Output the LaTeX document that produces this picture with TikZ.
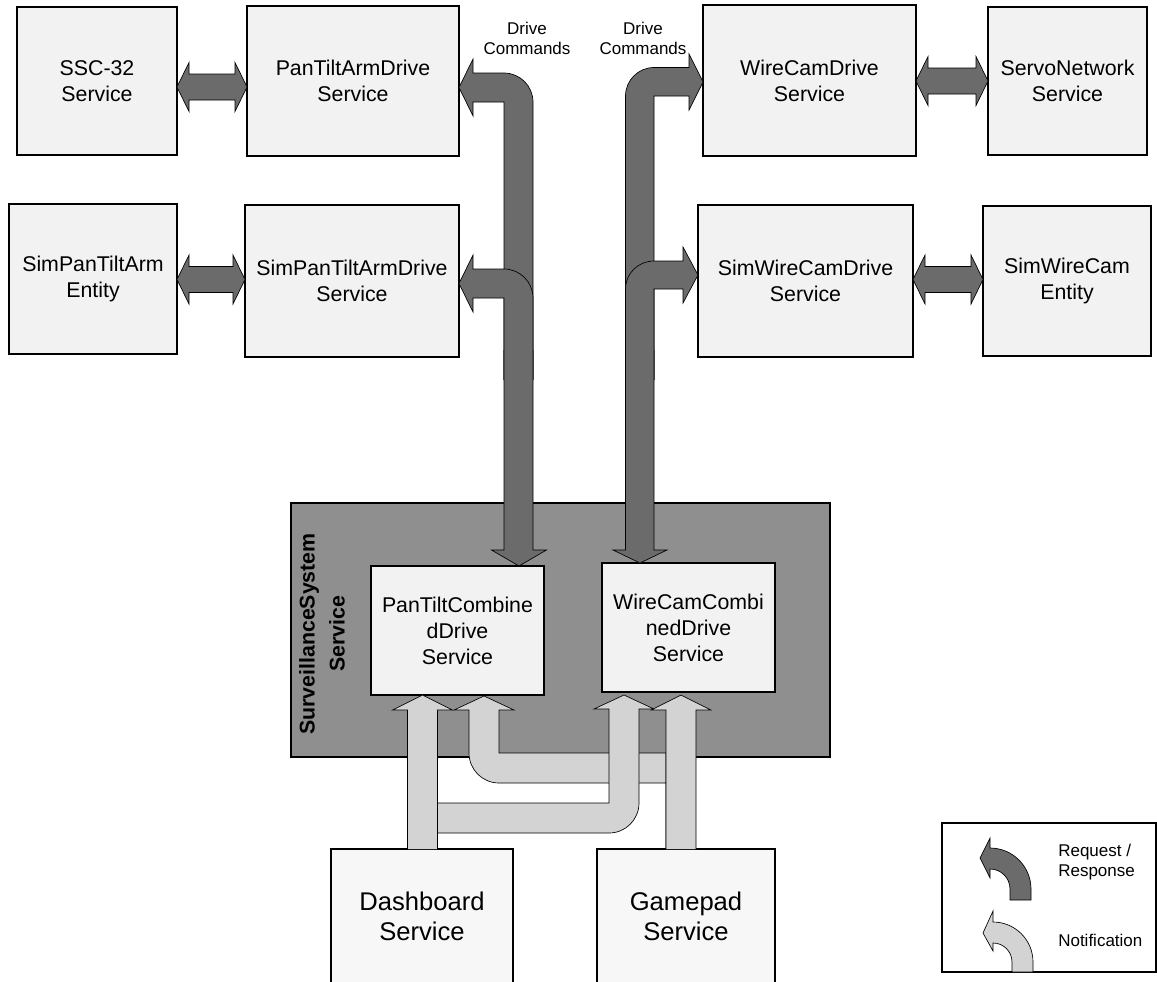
\documentclass[tikz,border=0pt]{standalone}
\usepackage{fontspec}
\setmainfont{Liberation Sans}
\usetikzlibrary{calc}

\definecolor{boxfill}{HTML}{F2F2F2}
\definecolor{lowfill}{HTML}{F7F7F7}
\definecolor{survfill}{HTML}{8F8F8F}
\definecolor{reqfill}{HTML}{6B6B6B}
\definecolor{notiffill}{HTML}{D3D3D3}

% two-headed request/response arrow between two side-by-side boxes at height #3
\newcommand\twoway[3]{%
  \filldraw[reqarrow] (#1.east |- 0,#3) -- ++(12,-24.5) -- ++(0,11.5)
    -- ($(#2.west |- 0,#3)+(-12,-13)$) -- ++(0,-11.5) -- (#2.west |- 0,#3)
    -- ++(-12,24.5) -- ++(0,-11.5) -- ($(#1.east |- 0,#3)+(12,13)$)
    -- ++(0,11.5) -- cycle;}

\begin{document}
\begin{tikzpicture}[x=0.75pt,y=-0.75pt,
  wh/.style 2 args={minimum width=#1*0.75pt, minimum height=#2*0.75pt},
  svcbox/.style={draw=black, line width=0.9pt, fill=boxfill, inner sep=0pt,
    outer sep=0pt, align=center, font=\fontsize{16}{19.5}\selectfont},
  bigbox/.style={svcbox, fill=lowfill, font=\fontsize{19.2}{23}\selectfont},
  reqarrow/.style={draw=black, line width=0.5pt, fill=reqfill, line join=miter},
  notifarrow/.style={draw=black, line width=0.5pt, fill=notiffill, line join=miter},
  smalltext/.style={inner sep=0pt, align=center, font=\fontsize{12.75}{15}\selectfont}]

\useasboundingbox (0,0) rectangle (1157,982);
\clip (0,0) rectangle (1157,982);
\fill[white] (0,0) rectangle (1157,982);

% ---- service boxes, top rows ----
\node[svcbox, wh={160}{148}] (ssc)     at (97,81)      {SSC-32\\Service};
\node[svcbox, wh={212}{150}] (pan)     at (353,81)     {PanTiltArmDrive\\Service};
\node[svcbox, wh={168}{150}] (simarm)  at (93,279)     {SimPanTiltArm\\Entity};
\node[svcbox, wh={214}{152}] (simpan)  at (352,281)    {SimPanTiltArmDrive\\Service};
\node[svcbox, wh={213}{151}] (wire)    at (809.5,80.5) {WireCamDrive\\Service};
\node[svcbox, wh={159}{148}] (servo)   at (1067.5,81)  {ServoNetwork\\Service};
\node[svcbox, wh={215}{152}] (simwire) at (805.5,281)  {SimWireCamDrive\\Service};
\node[svcbox, wh={168}{150}] (simcam)  at (1067,281)   {SimWireCam\\Entity};

\twoway{ssc}{pan}{87}
\twoway{simarm}{simpan}{279.5}
\twoway{wire}{servo}{81}
\twoway{simwire}{simcam}{279.5}

% ---- surveillance system container ----
\node[draw=black, line width=0.9pt, fill=survfill, inner sep=0pt, outer sep=0pt,
  wh={539}{254}] (surv) at (560.5,630) {};
\node[inner sep=0pt, rotate=90, align=center,
  font=\fontsize{16}{22.5}\selectfont\bfseries] (survlabel) at (322,634)
  {SurveillanceSystem\\Service};
\node[svcbox, wh={173}{129}] (ptc) at (457.5,630.5) {PanTiltCombine\\dDrive\\Service};
\node[svcbox, wh={173}{129}] (wcc) at (688.5,627.5) {WireCamCombi\\nedDrive\\Service};

% ---- drive commands (request / response) ----
\filldraw[reqarrow] (533,350) -- (533,550) -- (546.5,550) -- (ptc.north -| 519,0)
  -- (491.5,550) -- (504,550) -- (504,350);
\filldraw[reqarrow] (504,380) -- (504,102) -- (473,102) -- (473,116)
  -- (pan.east |- 0,87.5) -- (473,59) -- (473,73) -- (504,73)
  .. controls (520,73) and (533,86) .. (533,102) -- (533,380);
\filldraw[reqarrow] (504,380) -- (504,298) -- (473,298) -- (473,312)
  -- (simpan.east |- 0,283.5) -- (473,255) -- (473,269) -- (504,269)
  .. controls (520,269) and (533,282) .. (533,298) -- (533,380);

\filldraw[reqarrow] (654,350) -- (654,550) -- (667,550) -- (wcc.north -| 640,0)
  -- (613,550) -- (625.5,550) -- (625.5,350);
\filldraw[reqarrow] (625.5,380) -- (625.5,96) .. controls (625.5,80.3) and (638.3,67.5) .. (654,67.5)
  -- (689,67.5) -- (689,54) -- (wire.west |- 0,82) -- (689,110) -- (689,96)
  -- (654,96) -- (654,380);
\filldraw[reqarrow] (625.5,380) -- (625.5,289) .. controls (625.5,273.3) and (638.3,261) .. (654,261)
  -- (683,261) -- (683,247) -- (simwire.west |- 0,275) -- (683,303) -- (683,289)
  -- (654,289) -- (654,380);

\node[smalltext] (dcleft)  at (527,38) {Drive\\Commands};
\node[smalltext] (dcright) at (643,38) {Drive\\Commands};

% ---- client services ----
\node[bigbox, wh={182}{135}] (dash) at (422,916.5) {Dashboard\\Service};
\node[bigbox, wh={178}{135}] (game) at (686,916.5) {Gamepad\\Service};

% ---- notifications ----
\filldraw[notifarrow] (game.north -| 666,0) -- (666,753) -- (499,753) -- (499,710) -- (514,710)
  -- (484,696) -- (454,710) -- (469,710) -- (469,753)
  .. controls (469,769.6) and (482.4,783) .. (499,783) -- (666,783);
\filldraw[notifarrow] (438,833) -- (609,833) .. controls (625.6,833) and (639,819.6) .. (639,803)
  -- (639,709) -- (654,709) -- (624,695) -- (594,709) -- (609,709) -- (609,803) -- (438,803);
\filldraw[notifarrow] (dash.north -| 407.5,0) -- (407.5,710) -- (392.5,710)
  -- (ptc.south -| 422.5,0) -- (452.5,710) -- (437.5,710) -- (dash.north -| 437.5,0);
\filldraw[notifarrow] (game.north -| 666,0) -- (666,710) -- (651,710) -- (681,695)
  -- (711,710) -- (696,710) -- (game.north -| 696,0);

% ---- legend ----
\node[draw=black, line width=0.9pt, fill=white, inner sep=0pt, outer sep=0pt,
  wh={214}{149}] (legend) at (1049,897.5) {};
\filldraw[reqarrow] (1010,900) -- (1010,889) .. controls (1010,878) and (1001,869) .. (990,869)
  -- (990,878) -- (980,858) -- (990,838) -- (990,848)
  .. controls (1012.6,848) and (1031,866.4) .. (1031,889) -- (1031,900) -- cycle;
\filldraw[notifarrow] (1012,972) -- (1012,962) .. controls (1012,951.5) and (1003.5,943) .. (993,943)
  -- (993,951) -- (983,933) -- (993,911) -- (993,922)
  .. controls (1015.1,922) and (1033,939.9) .. (1033,962) -- (1033,972) -- cycle;
\node[smalltext, anchor=west, align=left] (lreq) at (1058,862) {Request /\\Response};
\node[smalltext, anchor=west, align=left] (lnot) at (1058,940) {Notification};

\end{tikzpicture}
\end{document}
